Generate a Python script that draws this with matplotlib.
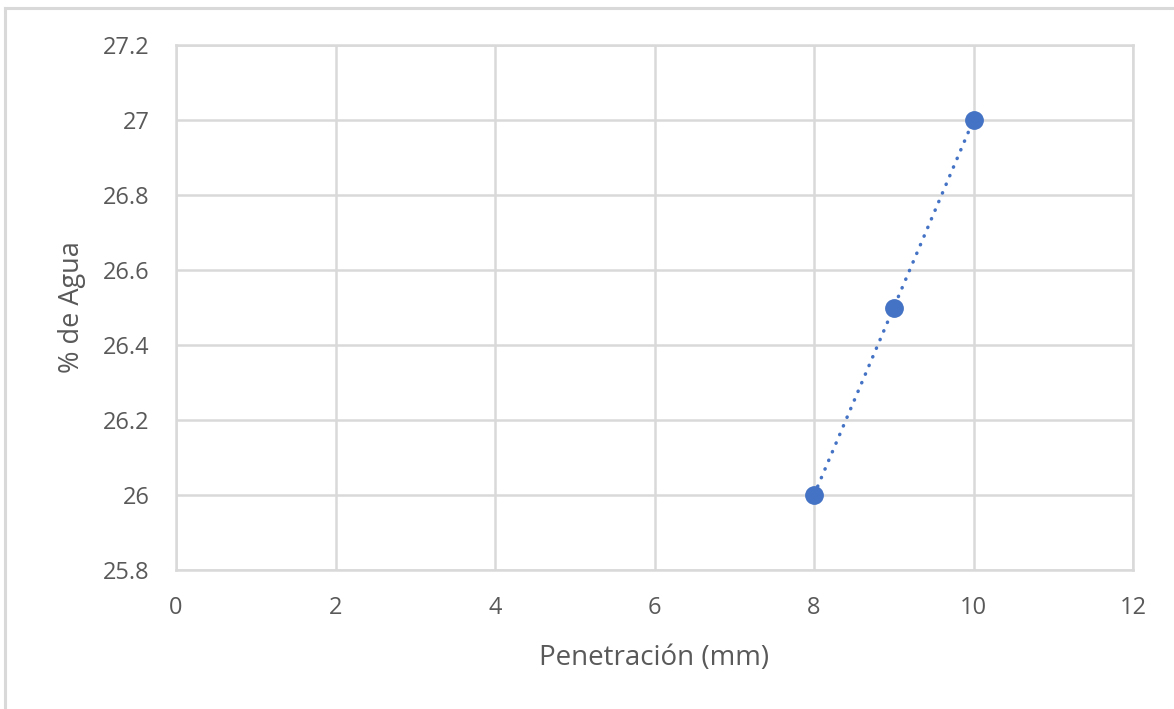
import numpy as np
import matplotlib.pyplot as plt
from matplotlib.lines import Line2D

plt.rcParams['font.family'] = ['Open Sans', 'DejaVu Sans']

penetracion = [8, 9, 10]
agua = [26.0, 26.5, 27.0]
xticks = [0, 2, 4, 6, 8, 10, 12]
yticks = [25.8, 26.0, 26.2, 26.4, 26.6, 26.8, 27.0, 27.2]
ytick_labels = ['25.8', '26', '26.2', '26.4', '26.6', '26.8', '27', '27.2']

W, H = 1174, 709
fig = plt.figure(figsize=(W / 100, H / 100), dpi=100)
ax = fig.add_axes([176 / W, 1 - 570 / H, (1133 - 176) / W, (570 - 45) / H])

grey = '#d9d9d9'
text_c = '#595959'
blue = '#4472c4'

ax.plot(penetracion, agua, linestyle=(0, (0.1, 2.6)), color=blue, linewidth=2.5,
        dash_capstyle='round', zorder=3)
ax.plot(penetracion, agua, linestyle='none', marker='o', markersize=12.5,
        color=blue, zorder=4)

ax.set_xlim(0, 12)
ax.set_ylim(25.8, 27.2)
ax.set_xticks(xticks)
ax.set_yticks(yticks)
ax.set_yticklabels(ytick_labels)
ax.grid(True, color=grey, linewidth=1.8)
ax.set_axisbelow(True)
for s in ax.spines.values():
    s.set_color(grey)
    s.set_linewidth(1.8)
ax.tick_params(length=0, labelsize=17, labelcolor=text_c)
ax.tick_params(axis='y', pad=19)
ax.tick_params(axis='x', pad=19)

ax.set_xlabel('Penetración (mm)', fontsize=20, color=text_c, labelpad=17)
ax.set_ylabel('% de Agua', fontsize=19.5, color=text_c, labelpad=12)

# outer chart frame (top and left edges)
fig.add_artist(Line2D([5 / W, 5 / W], [0, 1 - 8 / H], color=grey, linewidth=2.2))
fig.add_artist(Line2D([5 / W, 1], [1 - 8 / H, 1 - 8 / H], color=grey, linewidth=2.2))

fig.savefig('out.png', dpi=100)
